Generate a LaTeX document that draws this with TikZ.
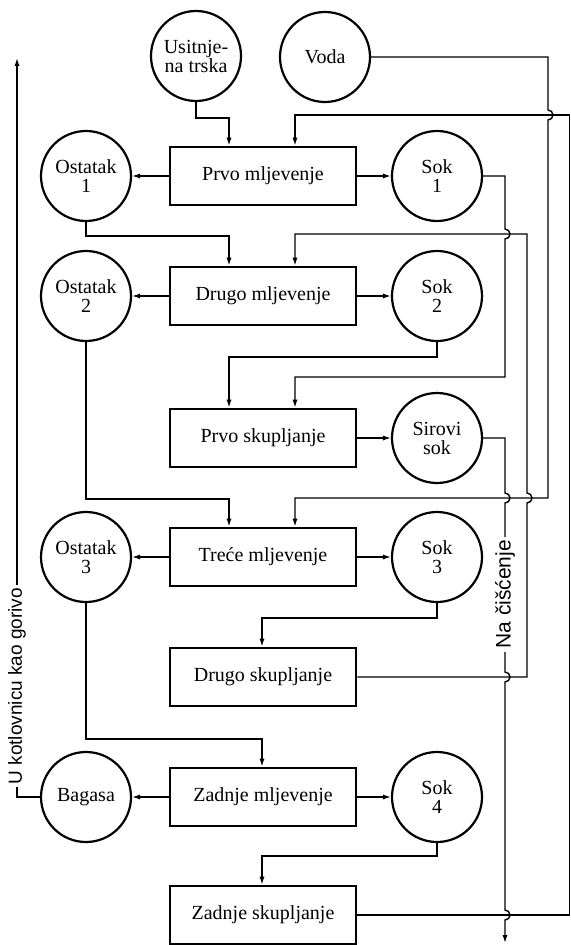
\documentclass[tikz,border=0pt]{standalone}
\usepackage{fontspec}
\setmainfont{Liberation Serif}
\setsansfont{Liberation Sans}
\usetikzlibrary{arrows.meta}

\begin{document}
\begin{tikzpicture}[
  x=0.5pt, y=-0.5pt,
  font=\fontsize{10}{9.5}\selectfont,
  blok/.style={draw=black, line width=1.4pt, minimum width=93pt, minimum height=29pt, inner sep=2pt},
  krug/.style={draw=black, line width=1.1pt, circle, minimum size=45pt, inner sep=1pt, align=center},
  tok/.style={draw=black, line width=0.7pt},
  strelica/.style={tok, -{Latex[length=4pt,width=2.6pt]}},
  natpis/.style={fill=white, rotate=90, inner sep=1.5pt, font=\sffamily\fontsize{9.5}{10}\selectfont}
]
\useasboundingbox (0,0) rectangle (570,945);

\node[blok] (pm1) at (263,176) {Prvo mljevenje};
\node[blok] (dm)  at (263,296) {Drugo mljevenje};
\node[blok] (ps1) at (263,438) {Prvo skupljanje};
\node[blok] (tm)  at (263,557) {Treće mljevenje};
\node[blok] (ds)  at (263,677) {Drugo skupljanje};
\node[blok] (zm)  at (263,797) {Zadnje mljevenje};
\node[blok] (zs)  at (263,915) {Zadnje skupljanje};

\node[krug] (trska)  at (196,56)  {Usitnje-\\na trska};
\node[krug] (voda)   at (325,57)  {Voda};
\node[krug] (ost1)   at (86,176)  {Ostatak\\1};
\node[krug] (sok1)   at (437,176) {Sok\\1};
\node[krug] (ost2)   at (86,296)  {Ostatak\\2};
\node[krug] (sok2)   at (437,296) {Sok\\2};
\node[krug] (sirovi) at (437,438) {Sirovi\\sok};
\node[krug] (ost3)   at (86,557)  {Ostatak\\3};
\node[krug] (sok3)   at (437,557) {Sok\\3};
\node[krug] (bagasa) at (86,797)  {Bagasa};
\node[krug] (sok4)   at (437,797) {Sok\\4};

\coordinate (uL) at (229,0);
\coordinate (uS) at (262,0);
\coordinate (uD) at (295,0);

\draw[strelica] (pm1) -- (ost1);
\draw[strelica] (pm1) -- (sok1);
\draw[strelica] (dm) -- (ost2);
\draw[strelica] (dm) -- (sok2);
\draw[strelica] (ps1) -- (sirovi);
\draw[strelica] (tm) -- (ost3);
\draw[strelica] (tm) -- (sok3);
\draw[strelica] (zm) -- (bagasa);
\draw[strelica] (zm) -- (sok4);

\draw[strelica] (trska.south) -- ++(0,16) -| (pm1.north -| uL);
\draw[strelica] (zs.east) -- (569.5,915) -- (569.5,115) -| (pm1.north -| uD);
\draw[strelica] (voda.east) -- (548,57) -- (548,110) arc(-90:90:5) -- (548,498) -| (tm.north -| uD);
\draw[strelica] (ost1.south) -- (86,236) -| (dm.north -| uL);
\draw[strelica] (ds.east) -- (527,677) -- (527,503) arc(90:-90:5) -- (527,234) -| (dm.north -| uD);
\draw[strelica] (sok1.east) -- (505,176) -- (505,229) arc(-90:90:5) -- (505,377) -| (ps1.north -| uD);
\draw[strelica] (sok2.south) -- ++(0,15) -| (ps1.north -| uL);
\draw[strelica] (sirovi.east) -- (505,438) -- (505,493) arc(-90:90:5)
  -- node[natpis, pos=0.54, font=\sffamily\fontsize{10.5}{11}\selectfont] {Na čišćenje} (505,672) arc(-90:90:5)
  -- (505,910) arc(-90:90:5) -- (505,943);
\draw[strelica] (ost2.south) -- (86,499) -| (tm.north -| uL);
\draw[strelica] (sok3.south) -- ++(0,15) -| (ds.north -| uS);
\draw[strelica] (ost3.south) -- (86,739) -| (zm.north -| uS);
\draw[strelica] (sok4.south) -- ++(0,13) -| (zs.north -| uS);
\draw[strelica] (bagasa.west) -- (17,797) -- node[natpis, pos=0.15] {U kotlovnicu kao gorivo} (17,58);

\end{tikzpicture}
\end{document}
